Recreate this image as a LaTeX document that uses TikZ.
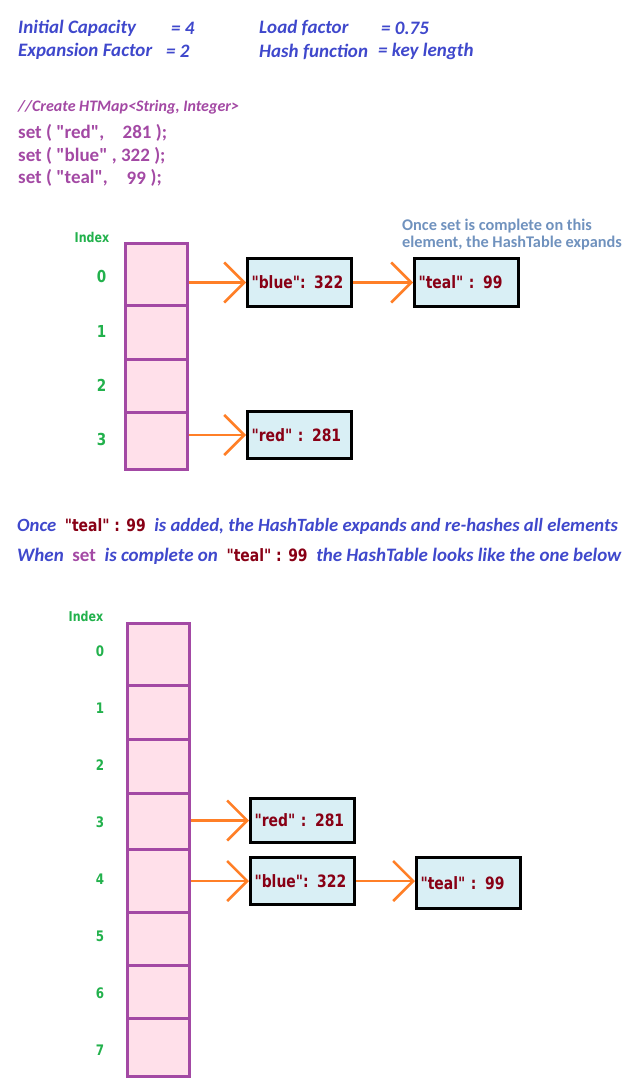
\documentclass[tikz,border=0pt]{standalone}
\usepackage{fontspec}
\setmainfont{Carlito}[Ligatures=TeXReset]
\newfontfamily\boxfont{DejaVu Sans}[FakeStretch=0.82]
\usetikzlibrary{arrows.meta}
\definecolor{hdrblue}{HTML}{3F48CC}
\definecolor{codepurple}{HTML}{A349A4}
\definecolor{noteblue}{HTML}{7092BE}
\definecolor{keyred}{HTML}{880015}
\definecolor{idxgreen}{HTML}{22B14C}
\definecolor{arrorange}{HTML}{FF7F27}
\definecolor{cellpink}{HTML}{FFE0EA}
\definecolor{entryblue}{HTML}{D9EFF5}
\newcommand\qq{\symbol{34}}
\tikzset{
  hdr/.style={anchor=west, inner sep=0pt, text=hdrblue, font=\fontsize{19}{22}\selectfont\bfseries\itshape},
  code/.style={anchor=west, inner sep=0pt, text=codepurple, font=\fontsize{19}{22}\selectfont\bfseries},
  codecomment/.style={anchor=west, inner sep=0pt, text=codepurple, font=\fontsize{16}{19}\selectfont\bfseries\itshape},
  note/.style={anchor=west, inner sep=0pt, text=noteblue, align=left, font=\fontsize{16.3}{17}\selectfont\bfseries},
  idx/.style={inner sep=0pt, text=idxgreen, font=\boxfont\fontsize{16.5}{18}\selectfont\bfseries},
  idxsmall/.style={inner sep=0pt, text=idxgreen, font=\boxfont\fontsize{14.5}{16}\selectfont\bfseries},
  idxhead/.style={inner sep=0pt, text=idxgreen, font=\boxfont\fontsize{13.5}{15}\selectfont\bfseries},
  cell/.style={draw=codepurple, line width=3pt, fill=cellpink, anchor=north west, minimum width=62pt, inner sep=0pt},
  entry/.style={draw=black, line width=3pt, fill=entryblue, anchor=north west, inner xsep=4pt, inner ysep=0pt, text width=96pt, align=left, text=keyred, font=\boxfont\fontsize{17}{19}\selectfont\bfseries},
  link/.style={draw=arrorange, line width=2.5pt, -{Straight Barb[length=20pt,width=40pt,line width=2.5pt]}},
}
\newcommand\keyteal{{\boxfont\upshape\color{keyred}\fontsize{17}{19}\selectfont\qq teal\qq\ : 99}}
\begin{document}
\begin{tikzpicture}[x=1pt,y=-1pt]
\useasboundingbox (0,0) rectangle (638,1086);
% header
\node[hdr] (ic) at (18,28) {Initial Capacity};
\node[hdr] (icv) at (171,28) {= 4};
\node[hdr] (lf) at (259,28) {Load factor};
\node[hdr] (lfv) at (381,28) {= 0.75};
\node[hdr] (ef) at (18,51.5) {Expansion Factor};
\node[hdr] (efv) at (166,51.5) {= 2};
\node[hdr] (hf) at (259,51.5) {Hash function};
\node[hdr] (hfv) at (378,51.5) {= key length};
% code
\node[codecomment] (cm) at (18,107) {//Create HTMap<String, Integer>};
\node[code] (s1) at (18,132.5) {set ( \qq red\qq,};
\node[code] (s1v) at (122.5,132.5) {281 );};
\node[code] (s2) at (18,155.5) {set ( \qq blue\qq\ , 322 );};
\node[code] (s3) at (18,178) {set ( \qq teal\qq,};
\node[code] (s3v) at (126.5,178) {99};
\node[code] (s3e) at (150.5,178) {);};
% top table
\node[idxhead] (tix) at (92,237) {Index};
\node[cell, minimum height=62pt] (t0) at (124,242) {};
\node[cell, minimum height=54pt] (t1) at (124,304) {};
\node[cell, minimum height=53pt] (t2) at (124,358) {};
\node[cell, minimum height=57pt] (t3) at (124,411) {};
\node[idx] (ti0) at (101.5,276) {0};
\node[idx] (ti1) at (101.5,331) {1};
\node[idx] (ti2) at (101.5,385) {2};
\node[idx] (ti3) at (101.5,439) {3};
\node[entry, minimum height=48pt] (tblue) at (246,257) {\qq blue\qq: 322};
\node[entry, minimum height=48pt] (tteal) at (413,257) {\qq teal\qq\ : 99};
\node[entry, minimum height=47pt] (tred) at (246,410) {\qq red\qq\ : 281};
\draw[link] (t0.east |- tblue.west) -- (tblue.west);
\draw[link] (tblue.east) -- (tteal.west);
\draw[link] (t3.east |- tred.west) -- (tred.west);
\node[note] (nt) at (402,234.5) {Once set is complete on this\\element, the HashTable expands};
% middle text
\node[hdr, font=\fontsize{18.7}{22}\selectfont\bfseries\itshape] (m1) at (17,526) {Once \ \keyteal\ \ is added, the HashTable expands and re-hashes all elements};
\node[hdr] (m2) at (17,556) {When \ {\upshape\color{codepurple}set} \ is complete on \ \keyteal\ \ the HashTable looks like the one below};
% bottom table
\node[idxhead] (bix) at (86,616) {Index};
\node[cell, minimum height=62pt] (b0) at (126,622) {};
\node[cell, minimum height=54pt] (b1) at (126,684) {};
\node[cell, minimum height=54pt] (b2) at (126,738) {};
\node[cell, minimum height=56pt] (b3) at (126,792) {};
\node[cell, minimum height=63pt] (b4) at (126,848) {};
\node[cell, minimum height=53pt] (b5) at (126,911) {};
\node[cell, minimum height=53pt] (b6) at (126,964) {};
\node[cell, minimum height=58pt] (b7) at (126,1017) {};
\node[idxsmall] (bi0) at (100,651) {0};
\node[idxsmall] (bi1) at (100,708) {1};
\node[idxsmall] (bi2) at (100,765) {2};
\node[idxsmall] (bi3) at (100,822) {3};
\node[idxsmall] (bi4) at (100,879) {4};
\node[idxsmall] (bi5) at (100,936) {5};
\node[idxsmall] (bi6) at (100,993) {6};
\node[idxsmall] (bi7) at (100,1050) {7};
\node[entry, minimum height=44pt] (bred) at (249,797) {\qq red\qq\ : 281};
\node[entry, minimum height=47pt] (bblue) at (249,856) {\qq blue\qq: 322};
\node[entry, minimum height=51pt] (bteal) at (415,856) {\qq teal\qq\ : 99};
\draw[link] (b3.east |- bred.west) -- (bred.west);
\draw[link] (b4.east |- bblue.west) -- (bblue.west);
\draw[link] (bblue.east) -- (bblue.east -| bteal.west);
\end{tikzpicture}
\end{document}
